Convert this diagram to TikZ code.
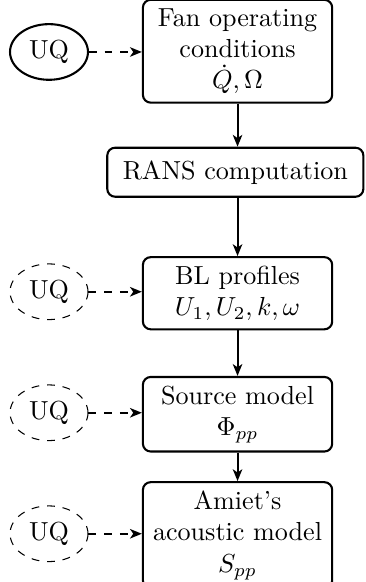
\documentclass[tikz,border=0pt]{standalone}
\usetikzlibrary{shapes.geometric, arrows.meta}
\begin{document}
\begin{tikzpicture}[block/.style={draw, thick, rounded corners=3pt, align=center, minimum width=2.55cm}, uq/.style={draw, ellipse, minimum width=1.05cm, minimum height=0.75cm, inner sep=0pt}, every path/.style={thick}, >={Stealth[length=4.5pt, width=3.6pt, inset=1.2pt]}]
			\useasboundingbox (0,0) rectangle (4.92,-7.84);
			\node[block, minimum height=1.24cm] (fan) at (3.20,-0.69) {Fan operating\\conditions\\$\dot{Q},\Omega$};
			\node[block, minimum width=3.45cm, minimum height=0.66cm] (rans) at (3.17,-2.32) {RANS computation};
			\node[block, minimum height=0.86cm] (bl) at (3.20,-3.95) {BL profiles\\$U_1,U_2,k,\omega$};
			\node[block, minimum height=0.86cm] (src) at (3.20,-5.58) {Source model\\$\Phi_{pp}$};
			\node[block, minimum height=1.24cm] (amiet) at (3.20,-7.21) {Amiet's\\acoustic model\\$S_{pp}$};
			\node[uq] (uqa) at (0.66,-0.70) {UQ};
			\node[uq, thin, dashed] (uqb) at (0.66,-3.93) {UQ};
			\node[uq, thin, dashed] (uqc) at (0.66,-5.56) {UQ};
			\node[uq, thin, dashed] (uqd) at (0.66,-7.19) {UQ};
			\draw[->] (fan.south)--(fan.south|-rans.north);
			\draw[->] (bl.north|-rans.south)--(bl.north);
			\draw[->] (bl)--(src);
			\draw[->] (src)--(amiet);
			\draw[->, dashed] (uqa)--(uqa-|fan.west);
			\draw[->, dashed] (uqb)--(uqb-|bl.west);
			\draw[->, dashed] (uqc)--(uqc-|src.west);
			\draw[->, dashed] (uqd)--(uqd-|amiet.west);
		\end{tikzpicture}
\end{document}
